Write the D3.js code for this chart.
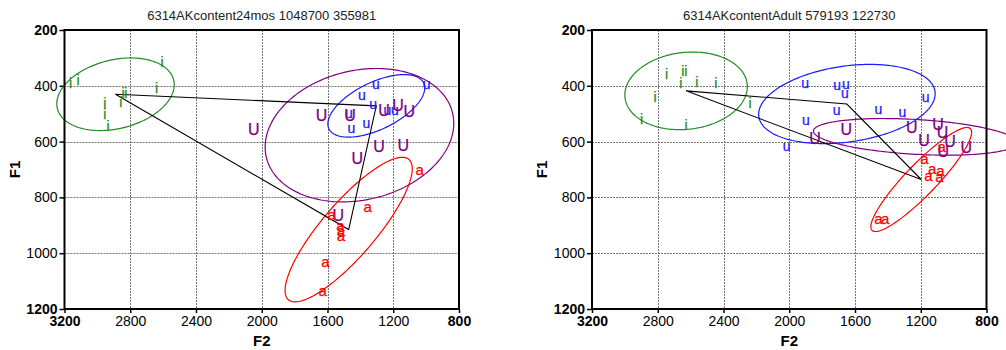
<!DOCTYPE html>
<html>
<head>
<meta charset="utf-8">
<script src="https://cdn.jsdelivr.net/npm/d3@7"></script>
<style>
  body { margin: 0; background: #fff; }
  svg { display: block; }
  text { font-family: "Liberation Sans", Arial, sans-serif; }
</style>
</head>
<body>
<svg id="chart" width="1006" height="350"></svg>
<script>
// Axis ticks (Hz)
const f2Ticks = [3200, 2800, 2400, 2000, 1600, 1200, 800];
const f1Ticks = [200, 400, 600, 800, 1000, 1200];

// Vowel categories
const vowels = ["i", "u", "U", "a"];
const triangleVowels = ["i", "u", "a"];

// Panel titles
const titles = ["6314AKcontent24mos 1048700 355981", "6314AKcontentAdult 579193 122730"];

// 24 months: formant measurements per token (F2, F1)
const m24_i_F2 = [2606, 3163, 3117, 2640, 2843, 2827, 2857, 2955, 2955, 2935];
const m24_i_F1 = [314, 389, 379, 407, 425, 425, 457, 462, 501, 544];
const m24_u_F2 = [1305, 997, 1390, 1322, 1235, 1190, 1470, 1364, 1455];
const m24_u_F1 = [394, 394, 433, 467, 487, 487, 499, 534, 552];
const m24_U_F2 = [1636, 1463, 1256, 1171, 1102, 1287, 1139, 1419, 2048, 1535];
const m24_U_F1 = [505, 505, 487, 471, 493, 616, 612, 660, 558, 863];
const m24_a_F2 = [1040, 1356, 1575, 1521, 1518, 1518, 1612, 1630];
const m24_a_F1 = [702, 833, 861, 903, 920, 938, 1032, 1134];

// Adult: formant measurements per token (F2, F1)
const ad_i_F2 = [2746, 2648, 2630, 2660, 2563, 2447, 2817, 2239, 2898, 2628];
const ad_i_F1 = [359, 349, 346, 391, 385, 391, 439, 461, 520, 540];
const ad_u_F2 = [1904, 1708, 1655, 1661, 1170, 1711, 1458, 1312, 1898, 2016];
const ad_u_F1 = [389, 397, 394, 427, 441, 487, 484, 495, 523, 616];
const ad_U_F2 = [1653, 1843, 1255, 1095, 1068, 1180, 1022, 1063, 923];
const ad_U_F1 = [556, 587, 548, 539, 568, 594, 600, 636, 619];
const ad_a_F2 = [1073, 1177, 1130, 1081, 1154, 1086, 1458, 1417];
const ad_a_F1 = [620, 661, 699, 706, 723, 726, 875, 877];

// Styling
const vowelColor = { i: "#228b22", u: "#1a1aff", U: "#800080", a: "#ff0000" };
const vowelFont = { i: 14, u: 14, U: 16, a: 15 };

const panels = [
  {
    title: titles[0], left: 64.5, right: 459,
    data: {
      i: { f2: m24_i_F2, f1: m24_i_F1 }, u: { f2: m24_u_F2, f1: m24_u_F1 },
      U: { f2: m24_U_F2, f1: m24_U_F1 }, a: { f2: m24_a_F2, f1: m24_a_F1 }
    }
  },
  {
    title: titles[1], left: 592, right: 986.5,
    data: {
      i: { f2: ad_i_F2, f1: ad_i_F1 }, u: { f2: ad_u_F2, f1: ad_u_F1 },
      U: { f2: ad_U_F2, f1: ad_U_F1 }, a: { f2: ad_a_F2, f1: ad_a_F1 }
    }
  }
];

const plotTop = 30, plotBottom = 309;
const svg = d3.select("#chart");

// Mean, SD and correlation of a vowel's tokens
function stats(f2, f1) {
  const m2 = d3.mean(f2), m1 = d3.mean(f1);
  const s2 = d3.deviation(f2), s1 = d3.deviation(f1);
  let c = 0;
  for (let k = 0; k < f2.length; k++) c += (f2[k] - m2) * (f1[k] - m1);
  c /= (f2.length - 1);
  return { m2, m1, s2, s1, r: c / (s2 * s1) };
}

panels.forEach(p => {
  const x = d3.scaleLinear().domain([3200, 800]).range([p.left, p.right]);
  const y = d3.scaleLinear().domain([200, 1200]).range([plotTop, plotBottom]);
  const cx = (p.left + p.right) / 2;
  const g = svg.append("g");

  // grid
  g.append("g").selectAll("line").data(f2Ticks.slice(1, -1)).join("line")
    .attr("x1", d => Math.round(x(d)) + 0.5).attr("x2", d => Math.round(x(d)) + 0.5)
    .attr("y1", plotTop).attr("y2", plotBottom)
    .attr("stroke", "#777").attr("stroke-width", 1).attr("stroke-dasharray", "2,1");
  g.append("g").selectAll("line").data(f1Ticks.slice(1, -1)).join("line")
    .attr("y1", d => Math.round(y(d)) + 0.5).attr("y2", d => Math.round(y(d)) + 0.5)
    .attr("x1", p.left).attr("x2", p.right)
    .attr("stroke", "#777").attr("stroke-width", 1).attr("stroke-dasharray", "2,1");

  // axes
  const ax = g.append("g").attr("transform", `translate(0,${plotBottom})`)
    .call(d3.axisBottom(x).tickValues(f2Ticks).tickSize(4).tickPadding(3).tickFormat(d3.format("d")));
  const ay = g.append("g").attr("transform", `translate(${p.left},0)`)
    .call(d3.axisLeft(y).tickValues(f1Ticks).tickSize(5).tickPadding(2).tickFormat(d3.format("d")));
  [ax, ay].forEach(a => {
    a.select(".domain").remove();
    a.selectAll(".tick line").attr("stroke", "#000").attr("stroke-width", 1.5);
    a.selectAll(".tick text").attr("font-size", 14).attr("fill", "#000")
      .attr("font-family", "'Liberation Sans', Arial, sans-serif")
      .attr("font-weight", (d, k, n) => (k === 0 || k === n.length - 1) ? "bold" : "normal");
  });

  // 2-SD ellipses
  const line = d3.line().x(d => x(d[0])).y(d => y(d[1])).curve(d3.curveLinearClosed);
  const st = {};
  vowels.forEach(v => {
    const s = stats(p.data[v].f2, p.data[v].f1);
    st[v] = s;
    const phi = Math.acos(s.r);
    const pts = d3.range(0, 360, 2).map(a => {
      const t = a * Math.PI / 180;
      return [s.m2 + 2 * s.s2 * Math.cos(t), s.m1 + 2 * s.s1 * Math.cos(t - phi)];
    });
    g.append("path").attr("d", line(pts)).attr("fill", "none")
      .attr("stroke", vowelColor[v]).attr("stroke-width", 1.2);
  });

  // vowel triangle through the means
  g.append("path").attr("d", line(triangleVowels.map(v => [st[v].m2, st[v].m1])))
    .attr("fill", "none").attr("stroke", "#000").attr("stroke-width", 1.1);

  // token labels
  vowels.forEach(v => {
    const d = p.data[v];
    g.append("g")
      .selectAll("text").data(d.f2.map((f2, k) => [f2, d.f1[k]])).join("text")
      .attr("x", e => x(e[0])).attr("y", e => y(e[1])).attr("dy", "0.35em")
      .attr("text-anchor", "middle").attr("font-size", vowelFont[v])
      .attr("fill", vowelColor[v]).attr("stroke", vowelColor[v]).attr("stroke-width", 0.25)
      .text(v);
  });

  // frame
  g.append("rect").attr("x", p.left).attr("y", plotTop)
    .attr("width", p.right - p.left).attr("height", plotBottom - plotTop)
    .attr("fill", "none").attr("stroke", "#000").attr("stroke-width", 2);

  // titles
  g.append("text").attr("x", cx).attr("y", 20).attr("text-anchor", "middle")
    .attr("font-size", 13).attr("fill", "#222").text(p.title);
  g.append("text").attr("x", cx).attr("y", 346).attr("text-anchor", "middle")
    .attr("font-size", 15).attr("font-weight", "bold").text("F2");
  g.append("text").attr("transform", `translate(${p.left - 45},${(plotTop + plotBottom) / 2}) rotate(-90)`)
    .attr("text-anchor", "middle").attr("font-size", 15).attr("font-weight", "bold").text("F1");
});
</script>
</body>
</html>
